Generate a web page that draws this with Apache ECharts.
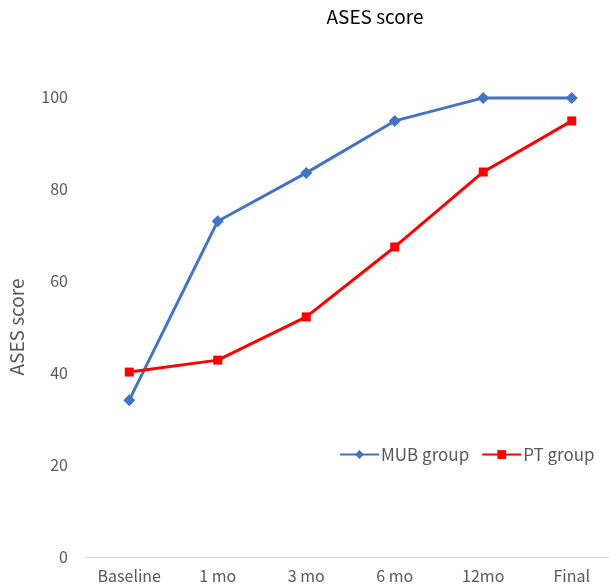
<!DOCTYPE html>
<html>
<head>
<meta charset="utf-8">
<script src="https://cdn.jsdelivr.net/npm/echarts@6/dist/echarts.min.js"></script>
<style>
  html, body { margin: 0; padding: 0; background: #fff; }
  #chart { width: 609px; height: 587px; }
</style>
</head>
<body>
<div id="chart"></div>
<script>
// Follow-up time points
const categories = ['Baseline', '1 mo', '3 mo', '6 mo', '12mo', 'Final'];
// Mean ASES score per group
const mubGroup = [34.1, 73.0, 83.5, 94.8, 99.8, 99.8];
const ptGroup = [40.2, 42.8, 52.2, 67.4, 83.7, 94.8];
// Value axis ticks
const yMin = 0, yMax = 100, yStep = 20;

const font = '"Noto Sans CJK JP", "Noto Sans", sans-serif';
const chart = echarts.init(document.getElementById('chart'));

chart.setOption({
  backgroundColor: '#ffffff',
  animation: false,
  title: {
    text: 'ASES score',
    left: 375,
    top: 7,
    padding: 0,
    textAlign: 'center',
    textStyle: { fontFamily: font, fontSize: 19, fontWeight: 'normal', color: '#000' }
  },
  legend: {
    data: ['MUB group', 'PT group'],
    left: 339,
    top: 446,
    padding: 0,
    itemWidth: 39,
    itemHeight: 11,
    itemGap: 12,
    textStyle: { fontFamily: font, fontSize: 17, color: '#595959', padding: [0, 0, 0, -3] }
  },
  grid: {
    left: 85, width: 531, top: 97, bottom: 30,
    containLabel: false,
    outerBoundsMode: 'none'
  },
  xAxis: {
    type: 'category',
    data: categories,
    boundaryGap: true,
    axisLine: { lineStyle: { color: '#d9d9d9', width: 1 } },
    axisTick: { show: false },
    axisLabel: { fontFamily: font, fontSize: 16, color: '#595959', margin: 11 }
  },
  yAxis: {
    type: 'value',
    min: yMin,
    max: yMax,
    interval: yStep,
    name: 'ASES score',
    nameLocation: 'middle',
    nameGap: 59,
    nameTextStyle: { fontFamily: font, fontSize: 19, color: '#595959' },
    axisLine: { show: false },
    axisTick: { show: false },
    splitLine: { show: false },
    axisLabel: { fontFamily: font, fontSize: 16, color: '#595959', margin: 17 }
  },
  series: [
    {
      name: 'MUB group',
      type: 'line',
      data: mubGroup,
      symbol: 'diamond',
      symbolSize: 12,
      lineStyle: { color: '#4472C4', width: 3 },
      itemStyle: { color: '#4472C4' }
    },
    {
      name: 'PT group',
      type: 'line',
      data: ptGroup,
      symbol: 'rect',
      symbolSize: 9,
      lineStyle: { color: '#FF0000', width: 3 },
      itemStyle: { color: '#FF0000' }
    }
  ]
});
</script>
</body>
</html>
